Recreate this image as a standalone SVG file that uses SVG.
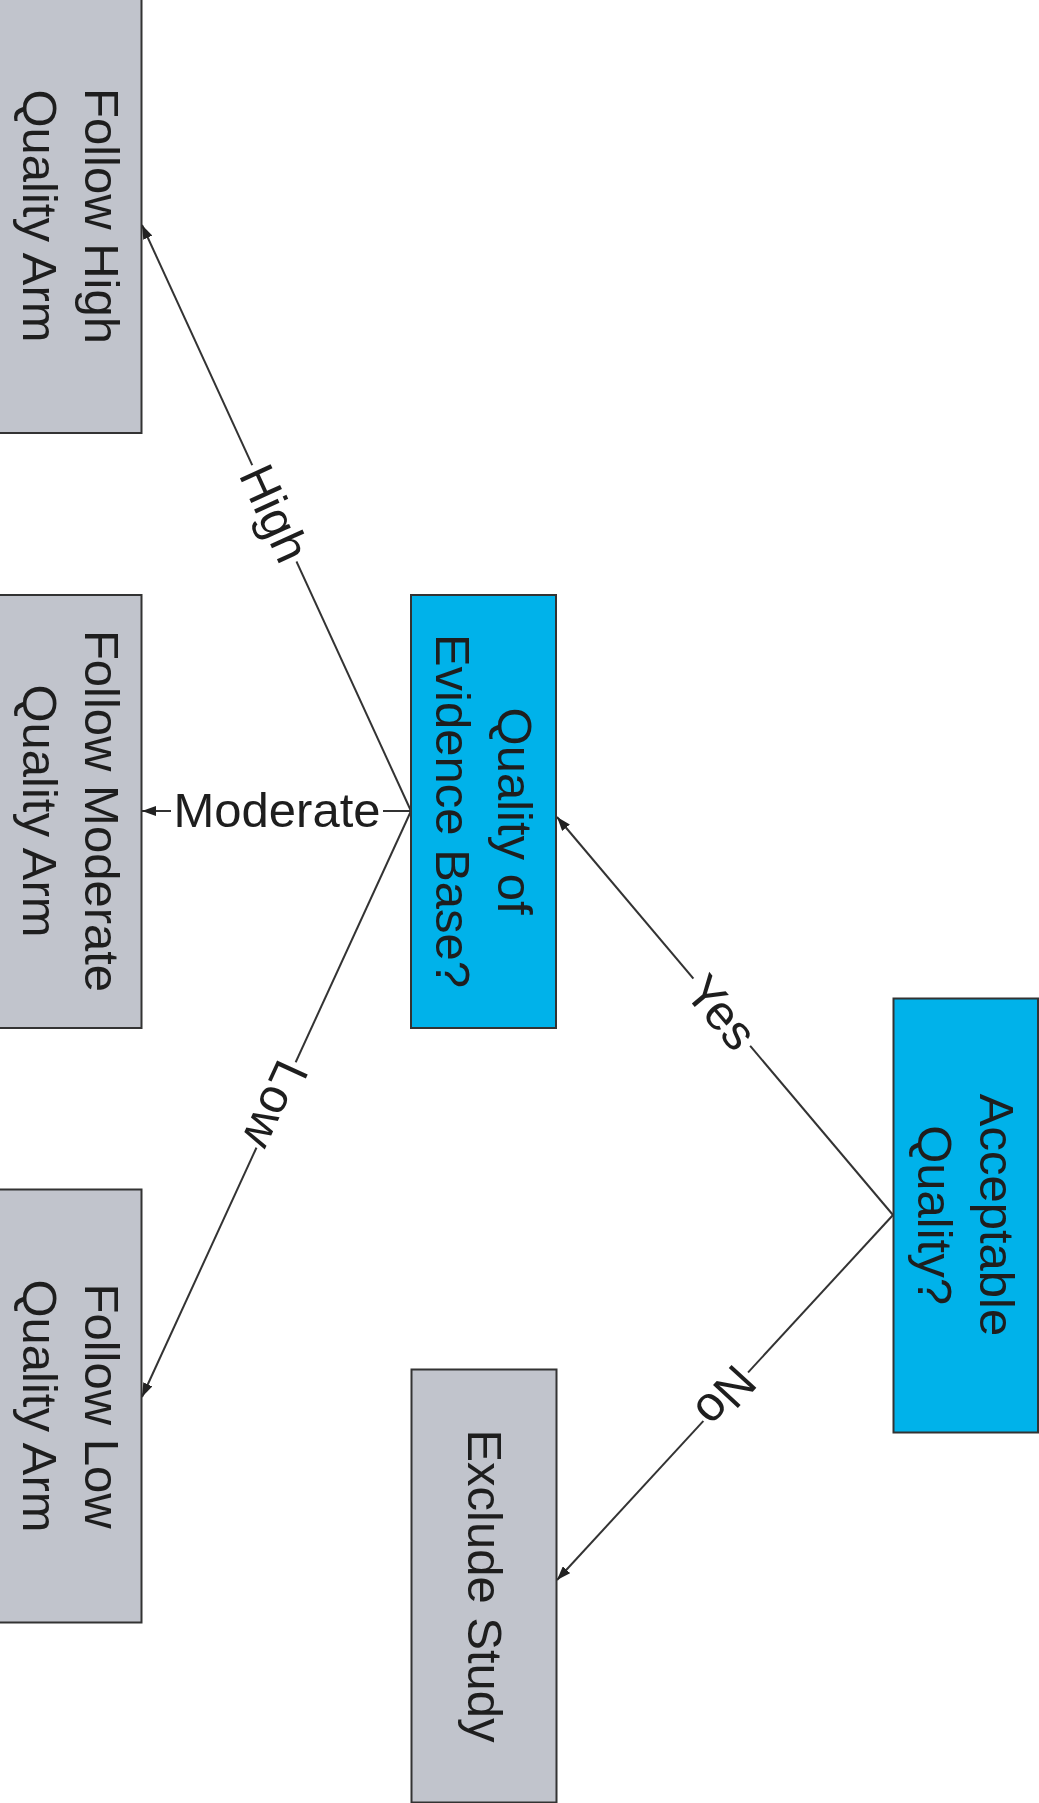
<svg xmlns="http://www.w3.org/2000/svg" width="1039" height="1803" viewBox="0 0 1039 1803">
<defs>
<marker id="arr" viewBox="0 0 14 10" markerWidth="14" markerHeight="10" refX="14" refY="5" orient="auto" markerUnits="userSpaceOnUse">
<path d="M0,0 L14,5 L0,10 z" fill="#222"/>
</marker>
</defs>
<style>
.gray{fill:#c1c4cc;stroke:#333;stroke-width:2}
.blue{fill:#00b2ea;stroke:#333;stroke-width:2}
.t{font-family:"Liberation Sans",Arial,sans-serif;font-size:49px;fill:#1e1e1e;text-anchor:middle}
.edge{stroke:#333;stroke-width:2;fill:none;marker-end:url(#arr)}
.bg{fill:#fff}
</style>
<rect width="1039" height="1803" fill="#fff"/>
<g id="connectors">
<line class="edge" x1="411" y1="811" x2="142" y2="225"/>
<line class="edge" x1="411" y1="811" x2="142" y2="811"/>
<line class="edge" x1="411" y1="811" x2="142" y2="1397"/>
<line class="edge" x1="893" y1="1215" x2="557" y2="817"/>
<line class="edge" x1="893" y1="1215" x2="557" y2="1580"/>
<g transform="translate(275,513) rotate(65.5)"><rect class="bg" x="-53" y="-14" width="106" height="28"/><text class="t" x="0" y="17.5">High</text></g>
<g transform="translate(277,811)"><rect class="bg" x="-106" y="-14" width="212" height="28"/><text class="t" x="0" y="16">Moderate</text></g>
<g transform="translate(276,1105) rotate(114.6)"><rect class="bg" x="-47" y="-14" width="94" height="28"/><text class="t" x="0" y="17.5">Low</text></g>
<g transform="translate(722,1012) rotate(49.8)"><rect class="bg" x="-44" y="-14" width="88" height="28"/><text class="t" x="0" y="17.5">Yes</text></g>
<g transform="translate(726,1397) rotate(132.6)"><rect class="bg" x="-33" y="-14" width="66" height="28"/><text class="t" x="0" y="17.5">No</text></g>
</g>
<g id="high">
<rect class="gray" x="-3" y="-1" width="144.5" height="434"/>
<g transform="translate(71,216) rotate(90)"><text class="t" x="0" y="-13.5">Follow High</text><text class="t" x="0" y="48.5">Quality Arm</text></g>
</g>
<g id="moderate">
<rect class="gray" x="-3" y="595" width="144.5" height="433"/>
<g transform="translate(71,811) rotate(90)"><text class="t" x="0" y="-13.5">Follow Moderate</text><text class="t" x="0" y="48.5">Quality Arm</text></g>
</g>
<g id="low">
<rect class="gray" x="-3" y="1189.5" width="144.5" height="433"/>
<g transform="translate(71,1406) rotate(90)"><text class="t" x="0" y="-13.5">Follow Low</text><text class="t" x="0" y="48.5">Quality Arm</text></g>
</g>
<g id="evidence">
<rect class="blue" x="411" y="595" width="145" height="433"/>
<g transform="translate(484,811) rotate(90)"><text class="t" x="0" y="-13.5">Quality of</text><text class="t" x="0" y="48.5">Evidence Base?</text></g>
</g>
<g id="exclude">
<rect class="gray" x="411.5" y="1369.5" width="145" height="433"/>
<g transform="translate(485,1586) rotate(90)"><text class="t" x="0" y="17.5">Exclude Study</text></g>
</g>
<g id="acceptable">
<rect class="blue" x="893.5" y="998.5" width="144.5" height="434"/>
<g transform="translate(966,1215) rotate(90)"><text class="t" x="0" y="-13.5">Acceptable</text><text class="t" x="0" y="48.5">Quality?</text></g>
</g>
</svg>
